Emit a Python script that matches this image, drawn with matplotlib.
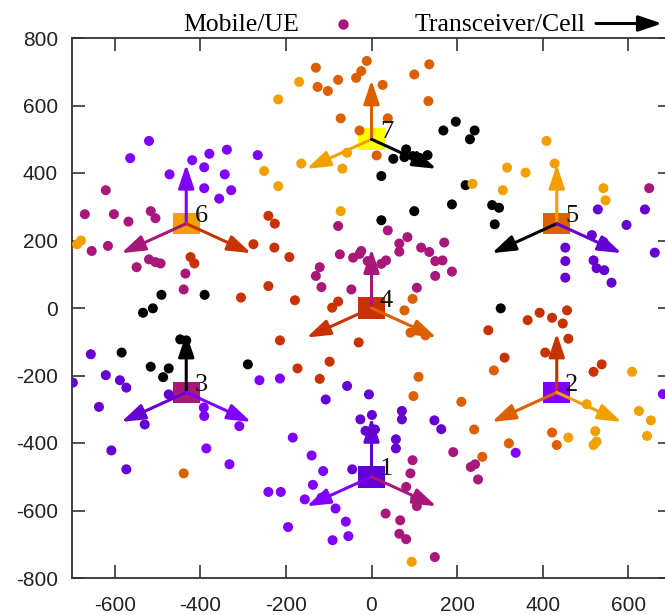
import matplotlib
matplotlib.use("Agg")
import matplotlib.pyplot as plt
from matplotlib.patches import Rectangle
import numpy as np

plt.rcParams["axes.unicode_minus"] = False

# colours taken from the gnuplot palette used in the picture
BLACK = "#000000"
VIOLET = "#8000ff"
DVIOLET = "#6400d2"
MAGENTA = "#a8187a"
RED = "#c83200"
ORANGE = "#dc6000"
AMBER = "#f0a000"
YELLOW = "#ffff00"

# cells (transceivers)
cell_x = [0, 433, -433, 0, 433, -433, 0]
cell_y = [-500, -250, -250, 0, 250, 250, 500]
cell_names = ["1", "2", "3", "4", "5", "6", "7"]
cell_colors = [DVIOLET, VIOLET, MAGENTA, RED, ORANGE, AMBER, YELLOW]

# three sectors per cell: up, lower left, lower right
sector_angles = [90, 210, 330]
sector_colors = [
    [DVIOLET, VIOLET, MAGENTA],
    [RED, ORANGE, AMBER],
    [BLACK, DVIOLET, VIOLET],
    [MAGENTA, RED, ORANGE],
    [AMBER, BLACK, DVIOLET],
    [VIOLET, MAGENTA, RED],
    [ORANGE, AMBER, BLACK],
]
sector_len = 175

# mobiles, grouped by the colour of their serving sector
black_x = [-491, -390, -511, -534, -584, -516, -474, -487, -289, -447, -433,
           197, 168, 241, 230, 81, 77, 51, 112, 131, 97, 23, 100, 23, 188, 282,
           298, 288, 302, 220]
black_y = [39, 39, -1, -14, -132, -174, -179, -205, -167, -93, -96,
           552, 526, 526, 500, 470, 447, 442, 445, 453, 450, 391, 287, 260, 307,
           305, 297, 248, -1, 364]

violet_x = [-520, -564, -419, -379, -338, -266, -472, -391, -343, -391, -328, -356,
            -392, -391, -309, -262, -214, -386, -332,
            -184, -140, -113, -137, -156, -117, -241, -212, -84, -60, -195, -91, -54,
            337, 681]
violet_y = [495, 444, 438, 457, 469, 453, 396, 417, 396, 355, 349, 324,
            -295, -320, -350, -214, -209, -416, -463,
            -384, -437, -483, -524, -567, -562, -545, -545, -594, -633, -649, -688, -676,
            -429, -255]

dviolet_x = [-656, -621, -588, -573, -698, -637, -530, -608, -573, -474,
             -57, -6, -107, -26, 1, -14, 8, 71, 71, 57, 57, 147, 163, -45,
             529, 639, 596, 515, 542, 453, 453, 453, 519, 526, 544, 561, 662]
dviolet_y = [-137, -199, -214, -236, -221, -293, -345, -422, -478, -256,
             -231, -256, -271, -330, -317, -364, -360, -305, -330, -389, -416, -333, -359, -478,
             292, 292, 246, 216, 196, 179, 139, 90, 141, 118, 112, 75, 164]

magenta_x = [-621, -670, -602, -568, -516, -505, -654, -616, -520, -505, -493, -549, -435, -439,
             -78, -74, -121, -130, -117, -47, -24, -43, -9, 23, -1, 34, -28, 38, 84, 65, 65,
             116, 135, 170, 149, 166, 188, 149, 106,
             649,
             96, 91, 81, 102, 106, 33, 67, 65, 81, 148, 191, 232, 242, 249]
magenta_y = [349, 278, 278, 256, 287, 266, 169, 184, 144, 136, 132, 121, 102, 55,
             243, 159, 121, 95, 62, 55, 169, 149, 139, 131, 118, 141, 160, 230, 210, 191, 167,
             179, 166, 194, 139, 141, 108, 95, 60,
             355,
             -451, -490, -530, -565, -587, -609, -629, -669, -685, -738, -427, -471, -463, -508]

red_x = [-241, -226, -276, -227, -192, -423, -414, -241, -305, -179,
         -92, -78, -214, -30, -173, -98, -121,
         311, 273, 365, 393, 422, 447, 457, 460, 406, 519, 538]
red_y = [273, 250, 189, 179, 151, 151, 132, 65, 31, 23,
         1, 19, -96, -102, -179, -159, -210,
         -147, -66, -36, -14, -29, -46, -7, -91, -132, -189, -167]

orange_x = [-11, -24, -36, 26, 100, 135, 133, 38, -28, 12, -130, -78, -126, -102, -72,
            96, 77, 91, 126,
            110, 98, 210, 240, 259, 286, 321, 422, 433,
            -439]
orange_y = [732, 702, 682, 661, 692, 722, 613, 562, 526, 452, 712, 676, 655, 643, 562,
            27, -7, -73, -81,
            -204, -261, -278, -360, -441, -185, -401, -369, -406,
            -490]

amber_x = [-679, -688,
           -169, -218, -164, -251, -218, -68, -57, -72,
           236, 409, 428, 317, 360, 307, 542, 547,
           460, 503, 523, 526, 519, 609, 625, 653, 644,
           94]
amber_y = [200, 189,
           670, 618, 428, 406, 361, 413, 460, 287,
           368, 495, 428, 416, 401, 349, 355, 319,
           -384, -285, -365, -396, -406, -189, -305, -333, -379,
           -752]

mobiles = [
    (black_x, black_y, BLACK),
    (violet_x, violet_y, VIOLET),
    (dviolet_x, dviolet_y, DVIOLET),
    (magenta_x, magenta_y, MAGENTA),
    (red_x, red_y, RED),
    (orange_x, orange_y, ORANGE),
    (amber_x, amber_y, AMBER),
]

W, H = 665, 615
fig = plt.figure(figsize=(W / 100, H / 100), dpi=100)
# the right border of the plot lies just outside the picture, as in the original
ax = fig.add_axes([72 / W, 1 - 578 / H, 599 / W, 540 / H])
ax.set_xlim(-700, 700)
ax.set_ylim(-800, 800)

# cells as squares
half = 32
for cx, cy, cc in zip(cell_x, cell_y, cell_colors):
    ax.add_patch(Rectangle((cx - half, cy - half), 2 * half, 2 * half,
                           facecolor=cc, edgecolor="none", zorder=2))

for mx, my, mc in mobiles:
    ax.scatter(mx, my, s=52, color=mc, edgecolors="none", zorder=3)

for cx, cy, cols in zip(cell_x, cell_y, sector_colors):
    for ang, col in zip(sector_angles, cols):
        tx = cx + sector_len * np.cos(np.radians(ang))
        ty = cy + sector_len * np.sin(np.radians(ang))
        ax.annotate("", xy=(tx, ty), xytext=(cx, cy),
                    arrowprops=dict(arrowstyle="-|>,head_length=0.95,head_width=0.32",
                                    color=col, lw=2.2, shrinkA=0, shrinkB=0,
                                    mutation_scale=15),
                    zorder=4)

for cx, cy, name in zip(cell_x, cell_y, cell_names):
    ax.annotate(name, xy=(cx, cy), xytext=(6, 1), textcoords="offset points",
                ha="left", va="baseline", fontsize=19, family="Liberation Serif",
                color="#111111", zorder=5)

ax.set_xticks(np.arange(-600, 601, 200))
ax.set_yticks(np.arange(-800, 801, 200))
ax.tick_params(direction="in", length=9.5, width=1.1, top=True, right=True,
               labelsize=15, colors="#222222")
ax.tick_params(axis="x", pad=13)
ax.tick_params(axis="y", pad=10)
for lab in ax.get_xticklabels() + ax.get_yticklabels():
    lab.set_family("Liberation Sans")
for sp in ax.spines.values():
    sp.set_linewidth(1.3)
    sp.set_color("#333333")

# key above the plot
fig.text(299 / W, 1 - 31 / H, "Mobile/UE", ha="right", va="baseline",
         fontsize=18.5, family="Liberation Serif")
fig.text(585 / W, 1 - 31 / H, "Transceiver/Cell", ha="right", va="baseline",
         fontsize=18.5, family="Liberation Serif")
fig.add_artist(plt.Line2D([343 / W], [1 - 23.5 / H], marker="o", markersize=7.5,
                          color=MAGENTA, markeredgewidth=0, transform=fig.transFigure))
fig.add_artist(matplotlib.patches.FancyArrowPatch(
    (596 / W, 1 - 23.5 / H), (662 / W, 1 - 23.5 / H), transform=fig.transFigure,
    arrowstyle="-|>,head_length=0.95,head_width=0.32", mutation_scale=15,
    color="black", lw=2.2, shrinkA=0, shrinkB=0))

fig.savefig("out.png", dpi=100)
